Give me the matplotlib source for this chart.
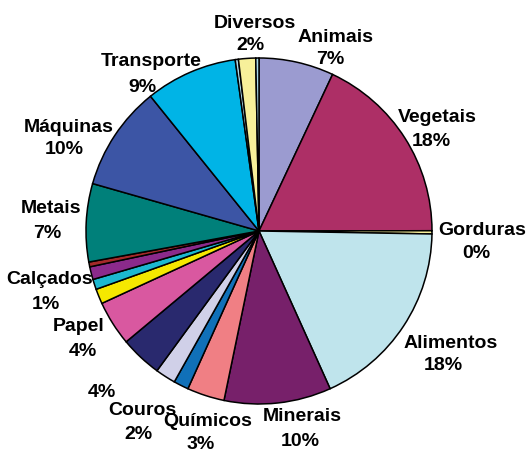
import matplotlib
matplotlib.use('Agg')
import matplotlib.pyplot as plt

# Shares read clockwise from 12 o'clock
sectors = ['Animais', 'Vegetais', 'Gorduras', 'Alimentos', 'Minerais', 'Químicos',
           'outro1', 'Couros', 'outro2', 'Papel', 'outro3', 'Calçados', 'outro4',
           'outro5', 'Metais', 'Máquinas', 'Transporte', 'outro6', 'Diversos', 'outro7']
shares = [7.0, 18.0, 0.3, 18.0, 10.0, 3.5, 1.4, 1.9, 3.9, 4.2, 1.4, 0.95, 1.2,
          0.45, 7.3, 9.8, 8.6, 0.3, 1.6, 0.3]
colors = ['#9b9bd0', '#ad2f66', '#f7f09a', '#bfe4ec', '#77206a', '#f07f84',
          '#1070b8', '#d0d0e8', '#29296e', '#d958a0', '#f5e800', '#1cb8d0', '#8b2a8b',
          '#a52a2a', '#00807a', '#3c55a5', '#00b4e6', '#a8d8ea', '#f7f09a', '#a8d8ea']

# label text, centre of name line and centre of percent line, in pixels
label_names = ['Diversos', 'Animais', 'Vegetais', 'Gorduras', 'Alimentos', 'Minerais',
               'Químicos', 'Couros', '', 'Papel', 'Calçados', 'Metais', 'Máquinas', 'Transporte']
label_pcts = ['2%', '7%', '18%', '0%', '18%', '10%', '3%', '2%', '4%', '4%', '1%', '7%',
              '10%', '9%']
name_xy = [(255, 21), (336, 35), (437, 115), (482, 229), (451, 342), (302, 415),
           (208, 419), (142, 409), None, (79, 325), (50, 277), (51, 207),
           (69, 125), (151, 60)]
pct_xy = [(250, 44), (330, 57), (431, 139), (476, 252), (443, 364), (300, 440),
          (201, 443), (138, 433), (102, 391), (83, 349), (46, 303), (47, 232),
          (64, 148), (142, 85)]

W, H = 527, 452
CX, CY, R = 259, 232, 173
FS = 14

plt.rcParams['font.family'] = ['Liberation Sans', 'DejaVu Sans']

fig = plt.figure(figsize=(W / 100, H / 100), dpi=100)
ax = fig.add_axes([(CX - R) / W, (H - CY - R) / H, 2 * R / W, 2 * R / H])
ax.pie(shares, colors=colors, startangle=90, counterclock=False,
       wedgeprops=dict(edgecolor='black', linewidth=1.1))
ax.set_xlim(-1.0, 1.0)
ax.set_ylim(-1.0, 1.0)
ax.set_aspect('equal')
ax.axis('off')

for name, pct, nxy, pxy in zip(label_names, label_pcts, name_xy, pct_xy):
    if name:
        fig.text(nxy[0] / W, 1 - nxy[1] / H, name, ha='center', va='center_baseline',
                 fontsize=FS, fontweight='bold')
    fig.text(pxy[0] / W, 1 - pxy[1] / H, pct, ha='center', va='center_baseline',
             fontsize=FS, fontweight='bold')

fig.savefig('out.png', dpi=100)
